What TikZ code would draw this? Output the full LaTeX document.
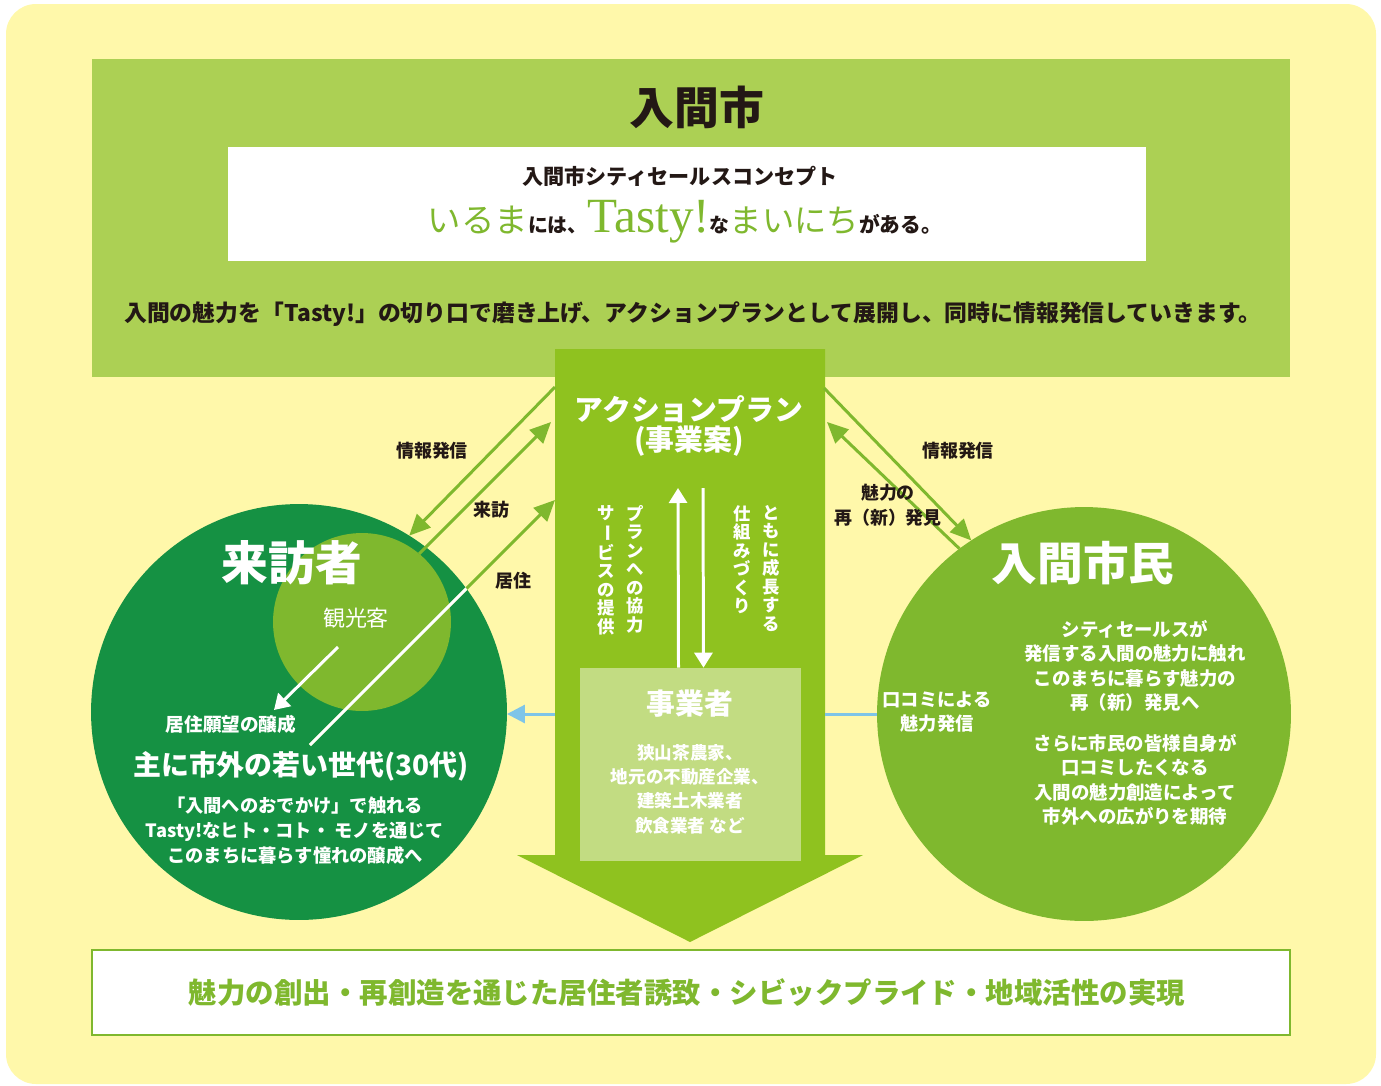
\documentclass[tikz,border=0pt]{standalone}
\usepackage{fontspec}
\setmainfont{Noto Sans CJK JP}
\newfontfamily\tastyfont{Liberation Serif}
\usepackage{tikz}
\usetikzlibrary{arrows.meta,positioning}
\definecolor{bgyellow}{RGB}{255,248,170}
\definecolor{topgreen}{RGB}{172,208,84}
\definecolor{plangreen}{RGB}{143,194,31}
\definecolor{boxgreen}{RGB}{194,220,130}
\definecolor{dkgreen}{RGB}{21,145,67}
\definecolor{ltgreen}{RGB}{127,184,46}
\definecolor{skyblue}{RGB}{126,197,232}
\definecolor{ink}{RGB}{35,24,21}
\newcommand{\fsz}[2]{\fontsize{#1}{#2}\selectfont}
\newcommand{\bou}{\rotatebox[origin=c]{-90}{ー}}
\tikzset{
  greenarrow/.style={line width=1.7pt, draw=ltgreen, -{Triangle[length=0.42cm,width=0.38cm]}},
  bluearrow/.style={line width=1.7pt, draw=skyblue, -{Triangle[length=0.36cm,width=0.36cm]}},
  whitearrow/.style={line width=1.7pt, draw=white, -{Triangle[length=0.3cm,width=0.36cm]}},
  lbl/.style={font=\bfseries\fsz{10.2}{14.2}, text=ink, inner sep=0, align=center},
  wtxt/.style={text=white, inner sep=0, align=center},
  tate/.style={text=white, inner sep=0, align=center, anchor=north, font=\bfseries\fsz{9.9}{10.5}},
  disc/.style={circle, inner sep=0, outer sep=0}
}
\begin{document}
\begin{tikzpicture}[x=0.02cm,y=-0.02cm]
\useasboundingbox (0,0) rectangle (1381,1085);
\fill[bgyellow, rounded corners=0.6cm] (6,4) rectangle (1376,1084);

% city band
\fill[topgreen] (92,59) rectangle (1290,377);
\fill[white] (228,147) rectangle (1146,261);
\node[text=ink, inner sep=0, font=\bfseries\fsz{25.5}{30}] (city) at (697,107) {入間市};
\node[text=ink, inner sep=0, font=\bfseries\fsz{12}{14}] (concept) at (680,176) {入間市シティセールスコンセプト};
\node[inner sep=0] (catch) at (685,222) {%
  {\color{ltgreen}\fsz{19}{20}いるま}{\color{ink}\bfseries\fsz{11.3}{13}には、}%
  {\color{ltgreen}\tastyfont\fsz{28}{30}Tasty!}%
  {\color{ink}\bfseries\fsz{11.3}{13}な}{\color{ltgreen}\fsz{18.4}{20}まいにち}%
  {\color{ink}\fsz{11.8}{13}\bfseries がある。}};
\node[text=ink, inner sep=0, font=\bfseries\fsz{13}{14}] (mission) at (693,314)
  {入間の魅力を「Tasty!」の切り口で磨き上げ、アクションプランとして展開し、同時に情報発信していきます。};

% action plan arrow
\fill[plangreen] (555,349) -- (825,349) -- (825,855) -- (863,855) -- (690,942)
  -- (517,855) -- (555,855) -- cycle;
\node[wtxt, font=\bfseries\fsz{16.4}{18}] (plan) at (689,409) {アクションプラン};
\node[wtxt, font=\bfseries\fsz{16.4}{18}] (planSub) at (689,441) {(事業案)};
\node[fill=boxgreen, minimum width=4.42cm, minimum height=3.86cm, inner sep=0] (jbox) at (690.5,764.5) {};
\node[wtxt, font=\bfseries\fsz{16.4}{18}] (jigyo) at (690,704) {事業者};
\node[wtxt, font=\bfseries\fsz{10}{13.9}] (jigyoList) at (690,789)
  {狭山茶農家、\\地元の不動産企業、\\建築土木業者\\飲食業者 など};

% vertical captions
\node[tate] (growA) at (771,505) {と\\も\\に\\成\\長\\す\\る};
\node[tate] (growB) at (742,505) {仕\\組\\み\\づ\\く\\り};
\node[tate] (helpA) at (635,505) {プ\\ラ\\ン\\へ\\の\\協\\力};
\node[tate] (helpB) at (606,505) {サ\\\bou\\ビ\\ス\\の\\提\\供};
\coordinate (flowTop) at (690,488);
\draw[whitearrow] ([xshift=-0.24cm]jbox.north) -- ([xshift=-0.24cm]flowTop);
\draw[whitearrow] ([xshift=0.26cm]flowTop) -- ([xshift=0.26cm]jbox.north);

% visitors
\node[disc, fill=dkgreen, minimum size=8.32cm] (raiho) at (299,712) {};
\node[disc, fill=ltgreen, minimum size=3.56cm] (kanko) at (362,622) {};
\node[wtxt, font=\bfseries\fsz{26.6}{30}] (raihoTitle) at (292,563) {来訪者};
\node[wtxt, font=\fsz{12.5}{14}] (kankoTitle) at (356,618) {観光客};
\node[wtxt, font=\bfseries\fsz{10.6}{13}] (wish) at (231,724) {居住願望の醸成};
\node[wtxt, font=\bfseries\fsz{15.9}{18}] (young) at (301,766) {主に市外の若い世代(30代)};
\node[wtxt, font=\bfseries\fsz{10.4}{14.2}] (youngNote) at (295,831)
  {「入間へのおでかけ」で触れる\\Tasty!なヒト・コト・ モノを通じて\\このまちに暮らす憧れの醸成へ};
\coordinate (wishFrom) at (338,647);
\coordinate (wishTo) at (274,710);
\draw[whitearrow] (wishFrom) -- (wishTo);

% citizens
\node[disc, fill=ltgreen, minimum size=8.28cm] (shimin) at (1084,714) {};
\node[wtxt, font=\bfseries\fsz{26}{30}] (shiminTitle) at (1083,563) {入間市民};
\node[wtxt, font=\bfseries\fsz{10.4}{14.2}] (kuchikomi) at (937,712) {口コミによる\\魅力発信};
\node[wtxt, font=\bfseries\fsz{10.5}{13.9}] (shiminNoteA) at (1135,666)
  {シティセールスが\\発信する入間の魅力に触れ\\このまちに暮らす魅力の\\再（新）発見へ};
\node[wtxt, font=\bfseries\fsz{10.5}{13.9}] (shiminNoteB) at (1135,780)
  {さらに市民の皆様自身が\\口コミしたくなる\\入間の魅力創造によって\\市外への広がりを期待};

% flows
\coordinate (planInfoL) at (555,387);
\coordinate (planVisit) at (551,422);
\coordinate (planLive) at (555,500);
\coordinate (liveFoot) at (310,745);
\coordinate (planInfoR) at (824,388);
\coordinate (planFind) at (827,422);
\draw[greenarrow] (planInfoL) -- (raiho.58);
\draw[greenarrow] (kanko.50) -- (planVisit);
\draw[greenarrow] (liveFoot) -- (planLive);
\begin{scope}
  \clip (raiho.center) circle[radius=4.16cm];
  \draw[line width=1.7pt, white] (liveFoot) -- (planLive);
\end{scope}
\draw[greenarrow] (planInfoR) -- (shimin.123);
\draw[greenarrow] (shimin.127) -- (planFind);
\node[lbl] (infoL) at (432,451) {情報発信};
\node[lbl] (visit) at (491,510) {来訪};
\node[lbl] (live) at (513,581) {居住};
\node[lbl] (infoR) at (958,451) {情報発信};
\node[lbl] (rediscover) at (888,505) {魅力の\\再（新）発見};

% word of mouth
\coordinate (blueL) at (555,714);
\coordinate (blueR) at (825,714);
\draw[bluearrow] (blueL) -- (blueL -| raiho.east);
\draw[line width=1.7pt, skyblue] (blueR) -- (blueR -| shimin.west);

% goal
\node[draw=ltgreen, line width=1.2pt, fill=white, minimum width=23.96cm, minimum height=1.7cm] (goalBox) at (691,992.5) {};
\node[text=ltgreen, inner sep=0, font=\bfseries\fsz{16.2}{18}] (goal) at (687,993)
  {魅力の創出・再創造を通じた居住者誘致・シビックプライド・地域活性の実現};
\end{tikzpicture}
\end{document}
